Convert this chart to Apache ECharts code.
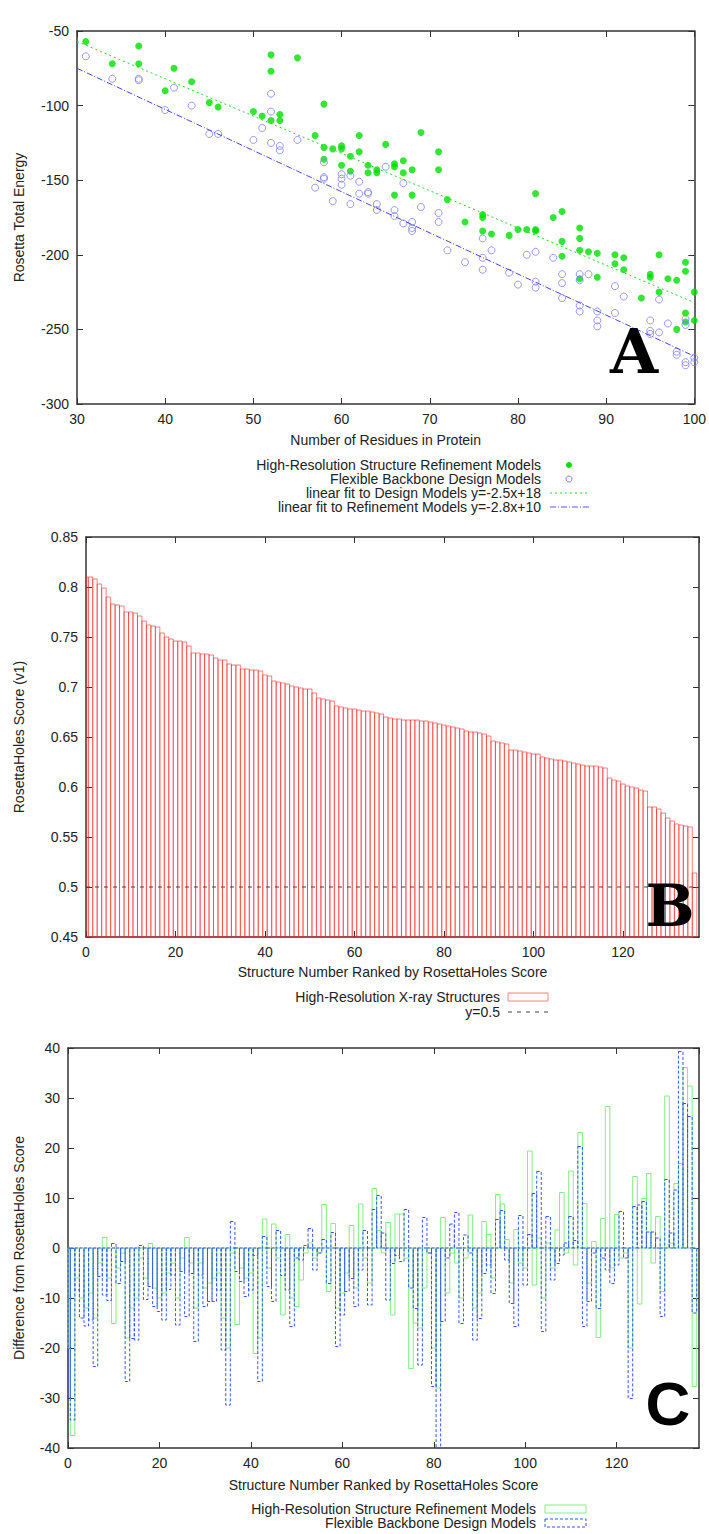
<!DOCTYPE html>
<html><head><meta charset="utf-8">
<script src="https://cdn.jsdelivr.net/npm/echarts@6/dist/echarts.min.js"></script>
<style>html,body{margin:0;padding:0;background:#fff}#c{width:709px;height:1534px}</style>
</head><body><div id="c"></div>
<script>
// ---------- Panel A data ----------
const refinementPts = [[31,-57],[34,-72],[37,-60],[37,-72],[40,-90],[41,-75],[43,-84],[45,-98],[46,-101],[50,-104],[51,-107],[52,-66],[52,-77],[52,-110],[53,-106],[53,-110],[55,-68],[57,-120],[58,-99],[58,-128],[58,-136],[59,-129],[60,-127],[60,-129],[60,-140],[61,-134],[61,-144],[62,-120],[62,-131],[63,-140],[63,-145],[64,-143],[64,-145],[65,-126],[66,-139],[66,-141],[66,-160],[67,-137],[67,-145],[68,-143],[68,-160],[69,-118],[71,-131],[71,-143],[72,-163],[74,-178],[76,-173],[76,-175],[76,-184],[77,-186],[79,-187],[80,-183],[81,-183],[82,-159],[82,-183],[82,-184],[84,-175],[85,-171],[85,-191],[85,-201],[87,-182],[87,-189],[87,-197],[87,-216],[88,-198],[89,-199],[89,-215],[91,-200],[91,-206],[92,-202],[92,-210],[94,-229],[95,-213],[95,-215],[96,-200],[96,-225],[97,-216],[98,-217],[98,-250],[99,-205],[99,-211],[99,-239],[99,-245],[100,-225],[100,-244]];
const designPts = [[31,-67],[34,-82],[37,-82],[37,-83],[40,-103],[41,-88],[43,-100],[45,-119],[46,-119],[50,-123],[51,-115],[52,-92],[52,-104],[52,-125],[53,-127],[53,-130],[55,-123],[57,-155],[58,-138],[58,-148],[58,-149],[59,-164],[60,-146],[60,-149],[60,-153],[61,-147],[61,-166],[62,-151],[62,-159],[63,-158],[63,-159],[64,-166],[64,-170],[65,-141],[66,-170],[66,-174],[67,-152],[67,-179],[68,-178],[68,-182],[68,-184],[69,-168],[71,-172],[71,-178],[72,-197],[74,-205],[76,-189],[76,-202],[76,-210],[77,-197],[79,-212],[80,-220],[81,-200],[82,-198],[82,-218],[82,-222],[84,-202],[85,-213],[85,-219],[85,-229],[87,-213],[87,-217],[87,-234],[87,-238],[88,-213],[89,-238],[89,-244],[89,-248],[91,-221],[91,-239],[92,-228],[95,-244],[95,-251],[95,-253],[96,-230],[96,-252],[97,-246],[98,-265],[98,-267],[99,-243],[99,-247],[99,-272],[99,-274],[100,-269],[100,-272]];
const designFitLine = [[30,-57],[100,-232]];
const refineFitLine = [[30,-75],[100,-268]];

// ---------- Panel B data ----------
const holesScores = [0.810,0.810,0.808,0.803,0.799,0.790,0.783,0.782,0.781,0.775,0.775,0.774,0.771,0.766,0.762,0.761,0.760,0.754,0.750,0.748,
0.746,0.746,0.745,0.741,0.734,0.734,0.733,0.733,0.732,0.729,0.727,0.727,0.723,0.722,0.722,0.718,0.718,0.717,0.717,0.716,
0.712,0.711,0.706,0.705,0.704,0.703,0.701,0.700,0.699,0.698,0.698,0.694,0.689,0.688,0.687,0.686,0.681,0.680,0.679,0.678,
0.678,0.677,0.676,0.676,0.675,0.674,0.673,0.670,0.669,0.668,0.668,0.667,0.667,0.667,0.667,0.666,0.666,0.665,0.664,0.663,
0.662,0.661,0.660,0.659,0.658,0.656,0.655,0.655,0.654,0.653,0.651,0.646,0.645,0.644,0.643,0.637,0.637,0.636,0.635,0.634,
0.633,0.633,0.630,0.629,0.628,0.627,0.627,0.626,0.625,0.624,0.623,0.622,0.621,0.621,0.621,0.620,0.619,0.609,0.607,0.606,
0.603,0.601,0.600,0.599,0.597,0.596,0.580,0.580,0.578,0.574,0.569,0.566,0.563,0.562,0.561,0.560,0.514];
const thresholdLine = [[0,0.5],[137,0.5]];

// ---------- Panel C data ----------
const refinementDiff = [-20,-37.5,-6,-10,-12,-9,-14,-3,2.1,-6,-15.1,-4,-1,-18,-12,-10,-2,-6,0.9,-8,
-10,-9,-5,-3,-10,-2,2.1,-3,-12,-3,-8,-7,-6,-5,-14,-20,-1,-15.3,-4,-6,
-5,-21.1,-18,5.8,-4,4.8,-2,-13.4,2.7,-10,-11.7,-6.4,-1,1,-2,-1,8.7,-8.7,4.9,-12,
-9,-5,4.5,-8,8.8,-2,-7,11.9,3.5,-1,5.1,-13.4,6.8,6.8,-2,-24.1,-15,-16,-8,-1,
-20,-28,6.1,-9,-1,-3,-10,-2,6.6,-12,-9,5.3,2.7,-6,10.7,8.8,1.7,-7,3.7,-3,
-4,19.4,-7.4,2,-10,1,-4,3.6,11.1,-1,15.4,-3.4,23.1,8.9,-7,1.3,-17.9,5.9,28.3,-4,
6.7,-2,-1,-20,14.3,-11.2,9.9,14.9,-3,6.3,-8.7,30.4,1,12.9,16.9,36.1,32.4,-27.7];
const designDiff = [-30,-34.4,-8.4,-14,-15.6,-14.4,-23.7,-5.7,-9.4,-10.5,0.9,-7.1,-2.7,-26.7,-18.1,-18.4,0.5,-10.3,-7.7,-11.7,
-12.7,-14.4,-8.3,-5.4,-15.4,-4.7,-13.7,-5.1,-18.7,-5.4,-11.7,-10.7,-10.7,-8.4,-20.4,-31.4,5.3,-4.7,-6.7,-9.7,
-8.4,-1.5,-26.7,2.3,-7.7,-10.7,3.5,-5.5,-8.4,-15.7,-2,-2.4,0.5,3.9,-4.4,-1,1.7,-7.1,3.1,-19.7,
-13.4,-8.7,-6.1,-11.7,-4.4,3.5,-11.4,7.7,10.5,3,-10.4,-3.1,-1.5,-2.7,7.7,-8,-12.1,-23.4,6.1,-1,
-27.7,-40,-14.7,-2,4.8,7.1,-15.1,2.6,-1,-18.4,-14.1,-5.1,-3.4,-9.1,5.7,7.5,-2.4,-11.1,-15.7,6.5,
-7.4,2.7,10.9,15.3,-16.7,6.3,-6.4,-3.1,-1.4,1,6.3,1.5,20.3,-15.7,-10.7,-1,-12.1,-2,-4.4,-7.1,
-3.4,7.3,-2,-30.1,8.3,8.6,9.3,3.2,3.2,2,-13.7,13.7,3,11.6,39.3,28.9,26.3,-13];

// ---------- chart ----------
const FONT = '"Liberation Sans", Arial, sans-serif';
const FS = 14;
const TXT = '#222';
const AX = '#333';
const chart = echarts.init(document.getElementById('c'), null, {renderer:'svg', width:709, height:1534});

function intLabel(step){ return v => (Math.abs(v/step - Math.round(v/step)) < 1e-6 ? String(+v.toFixed(2)) : ''); }

function xPair(gi, min, max, step, name, gap, showMax){
  const common = {type:'value', gridIndex:gi, min, max, interval:step, splitLine:{show:false},
    axisLine:{show:true, onZero:false, lineStyle:{color:AX, width:1.5}},
    axisTick:{show:true, inside:true, length:6, lineStyle:{color:AX, width:1}}};
  return [
    Object.assign({}, common, {position:'bottom', name, nameLocation:'middle', nameGap:gap,
      nameTextStyle:{fontFamily:FONT, fontSize:FS, color:TXT},
      axisLabel:{fontFamily:FONT, fontSize:FS, color:TXT, margin:8, showMaxLabel:!!showMax, formatter:intLabel(step)}}),
    Object.assign({}, common, {position:'top', axisLabel:{show:false}})
  ];
}
function yPair(gi, min, max, step, name, gap){
  const common = {type:'value', gridIndex:gi, min, max, interval:step, splitLine:{show:false},
    axisLine:{show:true, onZero:false, lineStyle:{color:AX, width:1.5}},
    axisTick:{show:true, inside:true, length:6, lineStyle:{color:AX, width:1}}};
  return [
    Object.assign({}, common, {position:'left', name, nameLocation:'middle', nameGap:gap,
      nameTextStyle:{fontFamily:FONT, fontSize:FS, color:TXT},
      axisLabel:{fontFamily:FONT, fontSize:FS, color:TXT, margin:8}}),
    Object.assign({}, common, {position:'right', axisLabel:{show:false}})
  ];
}

function boxSeries(xi, yi, values, base, stroke, dash, z){
  return {type:'custom', xAxisIndex:xi, yAxisIndex:yi, z:z||2, silent:true,
    data: values.map((v,i)=>[i,v]),
    renderItem(params, api){
      const x = api.value(0), v = api.value(1);
      const a = api.coord([x-0.5, v]), b = api.coord([x+0.5, base]);
      const r = echarts.graphic.clipRectByRect({x:Math.min(a[0],b[0]), y:Math.min(a[1],b[1]),
        width:Math.abs(b[0]-a[0]), height:Math.abs(b[1]-a[1])}, params.coordSys);
      if(!r) return null;
      return {type:'rect', shape:r, style:{fill:'none', stroke:stroke, lineWidth:1, lineDash:dash||null}};
    }};
}

const xA = xPair(0, 30, 100, 10, 'Number of Residues in Protein', 29, true);
const yA = yPair(0, -300, -50, 50, 'Rosetta Total Energy', 51);
const xB = xPair(1, 0, 137, 20, 'Structure Number Ranked by RosettaHoles Score', 28);
const yB = yPair(1, 0.45, 0.85, 0.05, 'RosettaHoles Score (v1)', 60);
const xC = xPair(2, 0, 138, 20, 'Structure Number Ranked by RosettaHoles Score', 30);
const yC = yPair(2, -40, 40, 10, 'Difference from RosettaHoles Score', 42);

const GREEN = '#00e000', BLUE_PT = '#7f7fff';

function legendText(x, y, t){ return {type:'text', style:{text:t, x, y, fill:TXT, font:FS+'px '+FONT, textAlign:'right', textVerticalAlign:'middle'}}; }

const graphic = [
  // Panel A legend
  legendText(541,465,'High-Resolution Structure Refinement Models'),
  legendText(541,479,'Flexible Backbone Design Models'),
  legendText(541,493,'linear fit to Design Models y=-2.5x+18'),
  legendText(541,507,'linear fit to Refinement Models y=-2.8x+10'),
  {type:'circle', shape:{cx:569, cy:465, r:3}, style:{fill:GREEN}},
  {type:'circle', shape:{cx:569, cy:479, r:3}, style:{fill:'none', stroke:BLUE_PT, lineWidth:1}},
  {type:'line', shape:{x1:550, y1:493, x2:587, y2:493}, style:{stroke:'#22dd22', lineWidth:1, lineDash:[2,3]}},
  {type:'line', shape:{x1:550, y1:507, x2:589, y2:507}, style:{stroke:'#5555ff', lineWidth:1, lineDash:[6,2,1,2]}},
  // Panel B legend
  legendText(500,997,'High-Resolution X-ray Structures'),
  legendText(500,1012,'y=0.5'),
  {type:'rect', shape:{x:508, y:993, width:40, height:8}, style:{fill:'none', stroke:'#ff8080', lineWidth:1}},
  {type:'line', shape:{x1:508, y1:1012, x2:548, y2:1012}, style:{stroke:'#444', lineWidth:1.2, lineDash:[4,5]}},
  // Panel C legend
  legendText(536,1509,'High-Resolution Structure Refinement Models'),
  legendText(536,1523,'Flexible Backbone Design Models'),
  {type:'rect', shape:{x:545, y:1505, width:41, height:8}, style:{fill:'none', stroke:'#80f080', lineWidth:1}},
  {type:'rect', shape:{x:545, y:1519, width:41, height:8}, style:{fill:'none', stroke:'#3355ff', lineWidth:1, lineDash:[3,2]}},
  // Panel letters
  {type:'text', z:100, style:{text:'A', x:634, y:351, fill:'#000', font:'bold 62px "DejaVu Serif", serif', textAlign:'center', textVerticalAlign:'middle'}},
  {type:'text', z:100, style:{text:'B', x:670, y:906, fill:'#000', font:'bold 58px "DejaVu Serif", serif', textAlign:'center', textVerticalAlign:'middle'}},
  {type:'text', z:100, style:{text:'C', x:668, y:1403, fill:'#000', font:'bold 62px "Liberation Sans", Arial, sans-serif', textAlign:'center', textVerticalAlign:'middle'}}
];

chart.setOption({
  animation:false,
  backgroundColor:'#fff',
  grid:[
    {left:77, right:10, top:31, height:373},
    {left:86, right:10, top:537, height:400},
    {left:68, right:10, top:1048, height:400}
  ],
  xAxis:[...xA, ...xB, ...xC],
  yAxis:[...yA, ...yB, ...yC],
  graphic,
  series:[
    {type:'scatter', xAxisIndex:0, yAxisIndex:0, data:refinementPts, symbol:'circle', symbolSize:7,
      itemStyle:{color:GREEN}, z:2},
    {type:'scatter', xAxisIndex:0, yAxisIndex:0, data:designPts, symbol:'circle', symbolSize:7,
      itemStyle:{color:'rgba(0,0,0,0)', borderColor:BLUE_PT, borderWidth:1}, z:3},
    {type:'line', xAxisIndex:0, yAxisIndex:0, data:designFitLine, symbol:'none', z:4,
      lineStyle:{color:'#22dd22', width:1, type:[2,3]}},
    {type:'line', xAxisIndex:0, yAxisIndex:0, data:refineFitLine, symbol:'none', z:4,
      lineStyle:{color:'#4444ff', width:1, type:[6,2,1,2]}},
    boxSeries(2, 2, holesScores, 0.45, 'rgba(255,40,40,0.6)', null, 2),
    {type:'line', xAxisIndex:2, yAxisIndex:2, data:thresholdLine, symbol:'none', z:5,
      lineStyle:{color:'#444', width:1.2, type:[4,5]}},
    boxSeries(4, 4, refinementDiff, 0, '#80f080', null, 2),
    boxSeries(4, 4, designDiff, 0, '#3355ff', [3,2], 3)
  ]
});
</script></body></html>
